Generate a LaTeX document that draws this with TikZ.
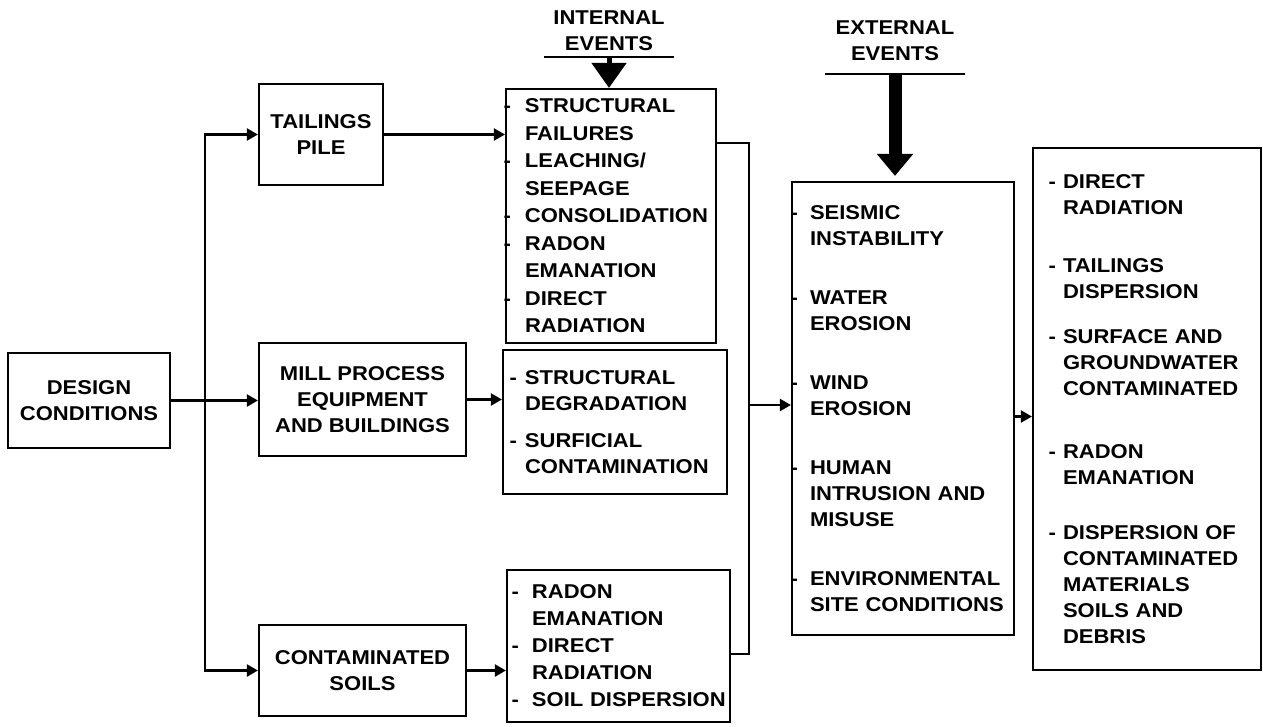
\documentclass[tikz,border=0pt]{standalone}
\usepackage{fontspec}
\setmainfont{Liberation Sans}[FakeStretch=1.1]
\usepackage{tikz}
\usetikzlibrary{arrows.meta}
\def \dsh #1{\makebox[0pt][r]{-\hspace{#1}}}
\def \fs #1{\fontsize{20}{#1}\selectfont\bfseries}

\begin{document}
\begin{tikzpicture}[x=1pt,y=-1pt,line width=2.2pt,font=\fs{26}]
\tikzstyle{box}=[draw,align=center,inner sep=0pt];
\tikzstyle{list}=[draw,align=left,inner sep=0pt];
\tikzstyle{head}=[align=center,inner xsep=0pt,anchor=south];
\tikzstyle{arrow}=[-{Triangle[length=11pt,width=12pt]}];
\useasboundingbox (0,0) rectangle (1263,726);
\node (1) [box,minimum width=162pt,minimum height=95pt] at (89,400.5) {DESIGN\\CONDITIONS};
\node (2) [box,minimum width=124pt,minimum height=101pt] at (321,134.5) {TAILINGS\\PILE};
\node (3) [box,minimum width=207pt,minimum height=113pt] at (362.5,399.5) {MILL PROCESS\\EQUIPMENT\\AND BUILDINGS};
\node (4) [box,minimum width=207pt,minimum height=91pt] at (362.5,670.5) {CONTAMINATED\\SOILS};
\node (5) [list,text width=210pt,minimum height=254pt,font=\fs{27.5}] at (611,216) {\leftskip=19pt \dsh{14pt}STRUCTURAL\\FAILURES\\\dsh{14pt}LEACHING/\\SEEPAGE\\\dsh{14pt}CONSOLIDATION\\\dsh{14pt}RADON\\EMANATION\\\dsh{14pt}DIRECT\\RADIATION\par};
\node (6) [list,text width=224pt,minimum height=144pt] at (615,422) {\leftskip=22pt \dsh{8pt}STRUCTURAL\\DEGRADATION\\[11pt]\dsh{8pt}SURFICIAL\\CONTAMINATION\par};
\node (7) [list,text width=223pt,minimum height=152pt,font=\fs{27}] at (618.5,646) {\leftskip=25pt \dsh{13pt}RADON\\EMANATION\\\dsh{13pt}DIRECT\\RADIATION\\\dsh{13pt}SOIL DISPERSION\par};
\node (8) [list,text width=222pt,minimum height=453pt] at (903,408.5) {\leftskip=18pt \dsh{12pt}SEISMIC\\INSTABILITY\\[33pt]\dsh{12pt}WATER\\EROSION\\[33pt]\dsh{12pt}WIND\\EROSION\\[33pt]\dsh{12pt}HUMAN\\INTRUSION AND\\MISUSE\\[33pt]\dsh{12pt}ENVIRONMENTAL\\SITE CONDITIONS\par};
\node (9) [list,text width=228pt,minimum height=522pt] at (1147,409) {\leftskip=30pt \dsh{7pt}DIRECT\\RADIATION\\[32pt]\dsh{7pt}TAILINGS\\DISPERSION\\[19pt]\dsh{7pt}SURFACE AND\\GROUNDWATER\\CONTAMINATED\\[37pt]\dsh{7pt}RADON\\EMANATION\\[29pt]\dsh{7pt}DISPERSION OF\\CONTAMINATED\\MATERIALS\\SOILS AND\\DEBRIS\par};
\node (10) [head,inner ysep=5pt,minimum width=128pt] at (609,57) {INTERNAL\\EVENTS};
\node (11) [head,inner ysep=12pt,minimum width=137pt] at (895,74) {EXTERNAL\\EVENTS};
\path (1.east) ++(34,0) coordinate (s);
\coordinate (j) at (749,405);
\draw [arrow] (1.east) -- (1.east -| 3.west);
\draw [arrow] (s) |- (2);
\draw [arrow] (s) |- (4);
\draw [arrow] (2.east) -- (2.east -| 5.west);
\draw [arrow] (3.east) -- (3.east -| 6.west);
\draw [arrow] (4.east) -- (4.east -| 7.west);
\draw ([yshift=-55pt]5.north east) -| (j) |- ([yshift=-85pt]7.north east);
\draw [arrow] (j) -- (j -| 8.west);
\draw [arrow] ([yshift=-8pt]8.east) -- ([yshift=-8pt]8.east -| 9.west);
\draw (10.south west) -- (10.south east);
\draw (11.south west) -- (11.south east);
\draw [-{Triangle[length=25pt,width=34pt]},line width=5pt] (10.south) -- (10.south |- 5.north);
\draw [-{Triangle[length=22pt,width=35pt]},line width=13pt,shorten >=5pt] (11.south) -- (11.south |- 8.north);
\end{tikzpicture}
\end{document}
